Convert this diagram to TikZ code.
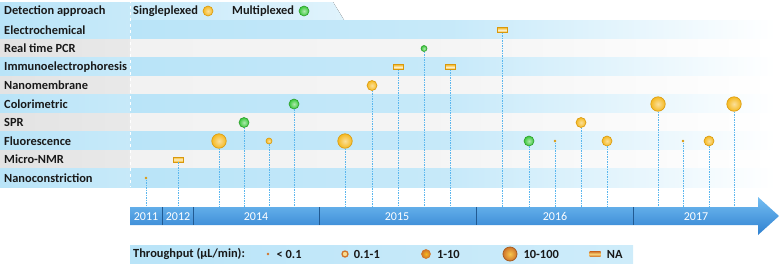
\documentclass[tikz,border=0pt]{standalone}
\usepackage{fontspec}
\setmainfont{Carlito}
\usetikzlibrary{positioning}
\definecolor{rowblue}{HTML}{B9E4F8}
\definecolor{rowgray}{HTML}{E3E3E3}
\definecolor{rowlight}{HTML}{F2F2F2}
\definecolor{axtop}{HTML}{74BEF2}
\definecolor{axdark}{HTML}{2F80D0}
\definecolor{stemblue}{HTML}{5AB6EE}
\definecolor{ylw}{HTML}{F5B920}
\definecolor{ylwedge}{HTML}{D9980C}
\definecolor{grn}{HTML}{38C838}
\definecolor{grnedge}{HTML}{2E9E2E}
\definecolor{brn}{HTML}{D0742A}
\tikzset{
  lbl/.style={anchor=west,inner sep=0pt,font=\bfseries\fontsize{12.4}{13}\selectfont,text=black!90},
  yr/.style={text=white,inner sep=0pt,font=\fontsize{12}{13}\selectfont},
  stem/.style={stemblue,line width=0.8pt,dash pattern=on 1.5pt off 1pt},
  ydot/.style={circle,inner sep=0pt,draw=ylwedge,line width=0.6pt,inner color=ylw!45!white,outer color=ylw},
  gdot/.style={circle,inner sep=0pt,draw=grnedge,line width=0.6pt,inner color=grn!40!white,outer color=grn},
  tiny/.style={circle,inner sep=0pt,minimum size=2.6pt,fill=ylwedge},
  small/.style={ydot,minimum size=6pt},
  mid/.style={ydot,minimum size=10pt},
  big/.style={ydot,minimum size=14.5pt},
  gsmall/.style={gdot,minimum size=6pt},
  gmid/.style={gdot,minimum size=10pt},
  na/.style={rectangle,inner sep=0pt,minimum width=10pt,minimum height=5pt,draw=ylwedge,line width=0.6pt,top color=ylw,bottom color=ylw,middle color=ylw!25!white}
}
\begin{document}
\begin{tikzpicture}[x=1pt,y=-1pt]
\useasboundingbox (0,0) rectangle (780,266);
\fill[left color=rowblue,right color=rowblue!45!white] (0,2) -- (333,2) -- (344,20) -- (0,20) -- cycle;
\foreach \t/\c/\d [count=\i from 0] in {Electrochemical/rowblue/rowblue,Real time PCR/rowgray/rowlight,Immunoelectrophoresis/rowblue/rowblue,Nanomembrane/rowgray/rowlight,Colorimetric/rowblue/rowblue,SPR/rowgray/rowlight,Fluorescence/rowblue/rowblue,Micro-NMR/rowgray/rowlight,Nanoconstriction/rowblue/rowblue} {
  \fill[left color=\c,right color=\c!80!white] (0,{20.75+18.5*\i}) rectangle (130,{39.25+18.5*\i});
  \fill[left color=\d,right color=white,middle color=\d!80!white] (130,{20.75+18.5*\i}) rectangle (775,{39.25+18.5*\i});
  \node[lbl] (r\i) at (4,{30+18.5*\i}) {\t};
}
\draw[white,dashed,line width=0.7pt] (130,0) -- (130,187.25);
\node[lbl] (head) at (4,11) {Detection approach};
\node[lbl] (sgl) at (133,11) {Singleplexed};
\node[mid] (sglm) at (208,11) {};
\node[lbl] (mlt) at (232,11) {Multiplexed};
\node[gmid] (mltm) at (304,11) {};
\shade[top color=axtop,bottom color=axdark] (130,207) -- (758,207) -- (758,197) -- (779,216) -- (758,235) -- (758,225) -- (130,225) -- cycle;
\coordinate (axis) at (130,207);
\foreach \x in {162,193,319,476,633}
  \draw[axdark!70!black,line width=0.6pt] (\x,207) -- (\x,225);
\foreach \x/\y in {146/2011,178/2012,256/2014,397/2015,555/2016,696/2017}
  \node[yr] (y\y) at (\x,216.5) {\y};
\foreach \x/\r/\s [count=\i] in {146/8/tiny,178/7/na,219/6/big,244/5/gmid,269/6/small,294/4/gmid,345/6/big,372/3/mid,398/2/na,424/1/gsmall,450/2/na,502/0/na,529/6/gmid,555/6/tiny,581/5/mid,607/6/mid,658/4/big,683/6/tiny,709/6/mid,734/4/big} {
  \node[\s] (m\i) at (\x,{30+18.5*\r}) {};
  \draw[stem] (m\i.south) -- (m\i |- axis);
}
\fill[left color=rowblue,right color=rowblue!70!white] (130,245) rectangle (633,263);
\node[lbl] (tp) at (133,254) {Throughput (µL/min):};
\node[circle,inner sep=0pt,minimum size=2.6pt,fill=brn] (l1) at (268,254) {};
\node[lbl,right=7pt of l1] (t1) {< 0.1};
\node[circle,inner sep=0pt,minimum size=6pt,draw=brn,line width=1.3pt,fill=ylw!50!white] (l2) at (345,254) {};
\node[lbl,right=5pt of l2] (t2) {0.1-1};
\node[circle,inner sep=0pt,minimum size=9pt,draw=brn,line width=0.6pt,inner color=ylw,outer color=brn] (l3) at (426,254) {};
\node[lbl,right=6pt of l3] (t3) {1-10};
\node[circle,inner sep=0pt,minimum size=14pt,draw=brn!80!black,line width=0.8pt,inner color=ylw!80!white,outer color=brn] (l4) at (510,254) {};
\node[lbl,right=6pt of l4] (t4) {10-100};
\node[rectangle,inner sep=0pt,minimum width=11pt,minimum height=5pt,top color=brn,bottom color=brn,middle color=ylw!60!white] (l5) at (595,254) {};
\node[lbl,right=6pt of l5] (t5) {NA};
\end{tikzpicture}
\end{document}
